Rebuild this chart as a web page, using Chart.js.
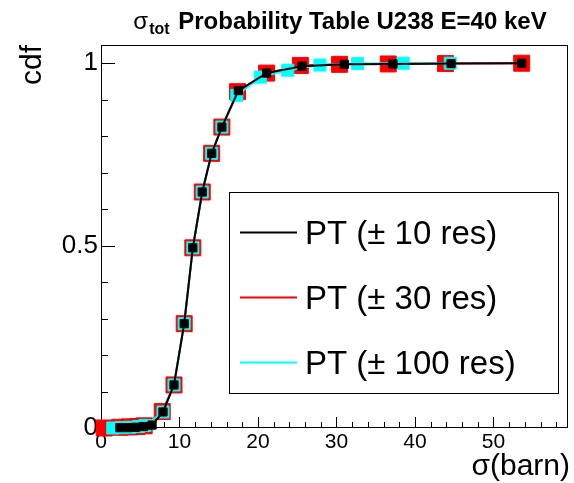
<!DOCTYPE html>
<html>
<head>
<meta charset="utf-8">
<script src="https://cdn.jsdelivr.net/npm/chart.js@4.4.1/dist/chart.umd.min.js"></script>
<style>
  html, body { margin: 0; padding: 0; background: #fff; }
  #wrap { width: 574px; height: 483px; }
</style>
</head>
<body>
<div id="wrap"><canvas id="cdfChart" width="574" height="483"></canvas></div>
<script>
// --- DATA ---
const seriesLabels = ['PT (\u00b1 10 res)', 'PT (\u00b1 30 res)', 'PT (\u00b1 100 res)'];

const sigma10 = [2.4, 3.4, 4.4, 5.4, 6.5, 7.9, 9.3, 10.6, 11.7, 12.9, 14.1, 15.4, 17.5, 21.1, 25.6, 31.0, 37.2, 44.6, 53.6];
const cdf10   = [0.001, 0.001, 0.002, 0.004, 0.008, 0.044, 0.118, 0.286, 0.494, 0.647, 0.753, 0.825, 0.925, 0.973, 0.992, 0.997, 0.998, 0.999, 1.0];

const sigma30 = [0.4, 2.4, 3.6, 4.6, 5.5, 7.8, 9.3, 10.6, 11.7, 12.9, 14.1, 15.4, 17.4, 21.1, 25.4, 30.4, 36.6, 43.9, 53.6];
const cdf30   = [0.0, 0.002, 0.003, 0.004, 0.006, 0.045, 0.118, 0.286, 0.494, 0.647, 0.753, 0.825, 0.922, 0.973, 0.994, 0.997, 0.998, 0.999, 1.0];

const sigma100 = [1.5, 2.6, 3.7, 4.8, 5.6, 7.9, 9.3, 10.6, 11.7, 12.9, 14.1, 15.4, 17.3, 20.3, 23.8, 27.9, 32.7, 38.5, 44.5];
const cdf100   = [0.0, 0.001, 0.002, 0.004, 0.007, 0.044, 0.118, 0.286, 0.494, 0.647, 0.753, 0.825, 0.912, 0.962, 0.981, 0.995, 0.999, 1.0, 1.0];

const xMajorTicks = [0, 10, 20, 30, 40, 50];
const xMinorTicks = [2, 4, 6, 8, 12, 14, 16, 18, 22, 24, 26, 28, 32, 34, 36, 38, 42, 44, 46, 48, 52, 54, 56, 58];
const yMajorTicks = [0, 0.5, 1];
const yMinorTicks = [0.1, 0.2, 0.3, 0.4, 0.6, 0.7, 0.8, 0.9];

// --- UTILITIES ---
const FONT = '"Liberation Sans", Arial, Helvetica, sans-serif';
const toPoints = (xs, ys) => xs.map((x, i) => ({ x, y: ys[i] }));

// frame + ROOT-style inward ticks, drawn under the graphs
const frameAndTicks = {
    id: 'frameAndTicks',
    beforeDatasetsDraw(chart) {
        const { ctx, chartArea: a, scales: { x, y } } = chart;
        ctx.save();
        ctx.strokeStyle = '#000';
        ctx.lineWidth = 1;
        ctx.strokeRect(a.left + 0.5, a.top + 0.5, a.right - a.left - 1, a.bottom - a.top - 1);
        ctx.beginPath();
        const xt = (v, len) => { const px = Math.round(x.getPixelForValue(v)) + 0.5; ctx.moveTo(px, a.bottom); ctx.lineTo(px, a.bottom - len); };
        const yt = (v, len) => { const py = Math.round(y.getPixelForValue(v)) + 0.5; ctx.moveTo(a.left, py); ctx.lineTo(a.left + len, py); };
        xMajorTicks.forEach(v => xt(v, 11));
        xMinorTicks.forEach(v => xt(v, 6));
        yMajorTicks.forEach(v => yt(v, 14));
        yMinorTicks.forEach(v => yt(v, 7));
        ctx.stroke();
        ctx.restore();
    }
};

// title, axis titles and legend box
const annotations = {
    id: 'annotations',
    afterDraw(chart) {
        const { ctx, chartArea: a, data } = chart;
        ctx.save();
        ctx.fillStyle = '#000';
        ctx.textBaseline = 'alphabetic';

        // title: sigma_tot Probability Table ...
        const main = ' Probability Table U238 E=40 keV';
        ctx.font = `24px ${FONT}`;
        const wSig = ctx.measureText('\u03c3').width;
        ctx.font = `bold 16px ${FONT}`;
        const wSub = ctx.measureText('tot').width;
        ctx.font = `bold 24px ${FONT}`;
        const wMain = ctx.measureText(main).width;
        let tx = 340 - (wSig + wSub + 3 + wMain) / 2;
        ctx.textAlign = 'left';
        ctx.font = `24px ${FONT}`;
        ctx.fillText('\u03c3', tx, 29);
        tx += wSig + 1;
        ctx.font = `bold 16px ${FONT}`;
        ctx.fillText('tot', tx, 34);
        tx += wSub + 2;
        ctx.font = `bold 24px ${FONT}`;
        ctx.fillText(main, tx, 29);

        // axis titles
        ctx.font = `30px ${FONT}`;
        ctx.textAlign = 'right';
        ctx.fillText('\u03c3(barn)', a.right + 2, 475);
        ctx.save();
        ctx.translate(41, a.top);
        ctx.rotate(-Math.PI / 2);
        ctx.fillText('cdf', 0, 0);
        ctx.restore();

        // legend
        const box = { l: 229, t: 192, r: 558, b: 393 };
        ctx.fillStyle = '#fff';
        ctx.fillRect(box.l, box.t, box.r - box.l, box.b - box.t);
        ctx.strokeStyle = '#000';
        ctx.lineWidth = 1;
        ctx.strokeRect(box.l + 0.5, box.t + 0.5, box.r - box.l, box.b - box.t);
        ctx.font = `33px ${FONT}`;
        ctx.textAlign = 'left';
        ctx.textBaseline = 'middle';
        data.datasets.forEach((ds, i) => {
            const cy = box.t + 40.5 + 65 * i;
            ctx.strokeStyle = ds.borderColor;
            ctx.lineWidth = 2;
            ctx.beginPath();
            ctx.moveTo(240, cy);
            ctx.lineTo(297, cy);
            ctx.stroke();
            ctx.fillStyle = '#000';
            ctx.fillText(ds.label, 305, cy + 2);
        });
        ctx.restore();
    }
};

// --- CHART ---
Chart.defaults.font.family = FONT;
Chart.defaults.color = '#000';

const dataset = (label, xs, ys, color, radius, order) => ({
    label,
    data: toPoints(xs, ys),
    showLine: true,
    borderColor: color,
    backgroundColor: color,
    borderWidth: 2,
    pointStyle: 'rect',
    pointRadius: radius,
    pointBackgroundColor: color,
    pointBorderColor: color,
    pointBorderWidth: 1,
    tension: 0,
    clip: false,
    order
});

new Chart(document.getElementById('cdfChart'), {
    type: 'scatter',
    data: {
        datasets: [
            dataset(seriesLabels[0], sigma10, cdf10, '#000000', 5.8, 1),
            dataset(seriesLabels[1], sigma30, cdf30, '#ff0000', 11.3, 3),
            dataset(seriesLabels[2], sigma100, cdf100, '#00ffff', 8.5, 2)
        ]
    },
    options: {
        responsive: false,
        animation: false,
        events: [],
        layout: { autoPadding: false, padding: { top: 45, right: 6, left: 0, bottom: 0 } },
        plugins: { legend: { display: false }, tooltip: { enabled: false }, title: { display: false } },
        scales: {
            x: {
                type: 'linear',
                min: 0,
                max: 59.5,
                afterFit: s => { s.height = 55; s.paddingLeft = 0; s.paddingRight = 0; },
                afterBuildTicks: s => { s.ticks = xMajorTicks.map(value => ({ value })); },
                grid: { display: false, drawTicks: false },
                border: { display: false },
                ticks: { padding: 2, font: { size: 21 }, maxRotation: 0, autoSkip: false }
            },
            y: {
                type: 'linear',
                min: 0,
                max: 1.05,
                afterFit: s => { s.width = 101; s.paddingTop = 0; s.paddingBottom = 0; },
                afterBuildTicks: s => { s.ticks = yMajorTicks.map(value => ({ value })); },
                grid: { display: false, drawTicks: false },
                border: { display: false },
                ticks: { padding: 3, font: { size: 26 }, autoSkip: false, callback: v => String(v) }
            }
        }
    },
    plugins: [frameAndTicks, annotations]
});
</script>
</body>
</html>
